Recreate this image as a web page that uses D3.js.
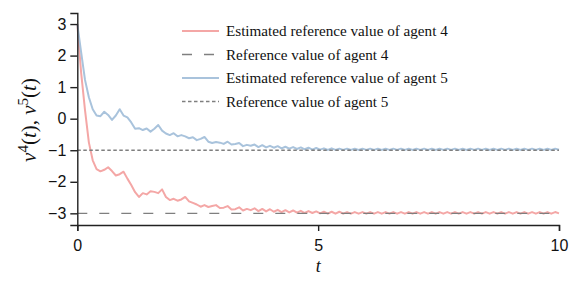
<!DOCTYPE html>
<html>
<head>
<meta charset="utf-8">
<script src="https://cdn.jsdelivr.net/npm/d3@7"></script>
<style>
  body { margin: 0; background: #fff; }
  svg { display: block; }
</style>
</head>
<body>
<div id="chart"></div>
<script>
// time samples (shared by both agents)
var tValues = [0.00,0.08,0.16,0.24,0.32,0.40,0.48,0.56,0.64,0.72,0.80,0.88,0.96,1.04,1.12,1.20,1.28,1.36,1.44,1.52,
  1.60,1.68,1.76,1.84,1.92,2.00,2.08,2.16,2.24,2.32,2.40,2.48,2.56,2.64,2.72,2.80,2.88,2.96,3.04,3.12,
  3.20,3.28,3.36,3.44,3.52,3.60,3.68,3.76,3.84,3.92,4.00,4.08,4.16,4.24,4.32,4.40,4.48,4.56,4.64,4.72,
  4.80,4.88,4.96,5.04,5.12,5.20,5.28,5.36,5.44,5.52,5.60,5.68,5.76,5.84,5.92,6.00,6.08,6.16,6.24,6.32,
  6.40,6.48,6.56,6.64,6.72,6.80,6.88,6.96,7.04,7.12,7.20,7.28,7.36,7.44,7.52,7.60,7.68,7.76,7.84,7.92,
  8.00,8.08,8.16,8.24,8.32,8.40,8.48,8.56,8.64,8.72,8.80,8.88,8.96,9.04,9.12,9.20,9.28,9.36,9.44,9.52,
  9.60,9.68,9.76,9.84,9.92,10.00];

// estimated reference value of agent 4
var agent4Est = [3.00,1.45,0.27,-0.75,-1.32,-1.60,-1.67,-1.62,-1.54,-1.66,-1.80,-1.76,-1.68,-1.90,-2.10,-2.33,-2.48,-2.36,-2.40,-2.30,
  -2.32,-2.36,-2.24,-2.48,-2.58,-2.54,-2.60,-2.56,-2.48,-2.62,-2.67,-2.72,-2.79,-2.74,-2.80,-2.77,-2.74,-2.83,-2.82,-2.77,
  -2.88,-2.87,-2.81,-2.91,-2.86,-2.90,-2.84,-2.93,-2.86,-2.94,-2.87,-2.95,-2.89,-2.96,-2.90,-2.97,-2.91,-2.98,-2.92,-2.99,
  -2.93,-2.99,-2.94,-3.00,-2.95,-3.01,-2.95,-3.01,-2.95,-3.01,-2.96,-3.01,-2.96,-3.01,-2.96,-3.01,-2.96,-3.01,-2.96,-3.01,
  -2.96,-3.01,-2.96,-3.01,-2.96,-3.01,-2.96,-3.01,-2.96,-3.01,-2.96,-3.01,-2.96,-3.01,-2.96,-3.01,-2.96,-3.01,-2.96,-3.01,
  -2.96,-3.01,-2.96,-3.01,-2.96,-3.01,-2.96,-3.01,-2.96,-3.01,-2.96,-3.01,-2.96,-3.01,-2.96,-3.01,-2.96,-3.01,-2.96,-3.01,
  -2.96,-3.01,-2.96,-3.01,-2.96,-3.00];

// estimated reference value of agent 5
var agent5Est = [3.00,2.10,1.23,0.68,0.30,0.10,0.08,0.22,0.12,-0.04,0.10,0.30,0.10,0.04,-0.12,-0.32,-0.30,-0.36,-0.31,-0.41,
  -0.32,-0.20,-0.38,-0.47,-0.52,-0.46,-0.56,-0.52,-0.56,-0.62,-0.59,-0.68,-0.64,-0.58,-0.73,-0.77,-0.74,-0.76,-0.80,-0.73,
  -0.82,-0.80,-0.77,-0.87,-0.83,-0.86,-0.82,-0.90,-0.84,-0.91,-0.86,-0.92,-0.87,-0.94,-0.89,-0.95,-0.90,-0.96,-0.91,-0.97,
  -0.92,-0.98,-0.93,-0.98,-0.94,-0.99,-0.94,-0.99,-0.95,-0.99,-0.95,-0.99,-0.95,-0.99,-0.95,-0.99,-0.95,-0.99,-0.95,-0.99,
  -0.95,-0.99,-0.95,-0.99,-0.95,-0.99,-0.95,-0.99,-0.95,-0.99,-0.95,-0.99,-0.95,-0.99,-0.95,-0.99,-0.95,-0.99,-0.95,-0.99,
  -0.95,-0.99,-0.95,-0.99,-0.95,-0.99,-0.95,-0.99,-0.95,-0.99,-0.95,-0.99,-0.95,-0.99,-0.95,-0.99,-0.95,-0.99,-0.95,-0.99,
  -0.95,-0.99,-0.95,-0.99,-0.95,-0.98];

var agent4Ref = -3;
var agent5Ref = -1;

var xTicks = [0, 5, 10];
var yTicks = [3, 2, 1, 0, -1, -2, -3];

var legendLabels = [
  "Estimated reference value of agent 4",
  "Reference value of agent 4",
  "Estimated reference value of agent 5",
  "Reference value of agent 5"
];

var width = 582, height = 283;
var margin = {top: 13, right: 23, bottom: 58, left: 77.3};
var serif = "'Liberation Serif'", sans = "'Liberation Sans'";

var svg = d3.select("#chart")
  .append("svg")
    .attr("width", width)
    .attr("height", height);

var x = d3.scaleLinear()
    .domain([0, 10])
    .range([margin.left, width - margin.right]);

var y = d3.scaleLinear()
    .domain([-3.37, 3.35])
    .range([height - margin.bottom, margin.top]);

var red = "#f4a7a6", blue = "#a9c3dc", gray = "#7f7f7f";

var line = d3.line()
    .x(function(d) { return x(d[0]); })
    .y(function(d) { return y(d[1]); });

function pairs(vals) {
  return tValues.map(function(t, i) { return [t, vals[i]]; });
}

// estimated value of agent 4
svg.append("path")
    .datum(pairs(agent4Est))
    .attr("fill", "none")
    .attr("stroke", red)
    .attr("stroke-width", 2)
    .attr("stroke-linejoin", "round")
    .attr("d", line);

// reference of agent 4
svg.append("line")
    .attr("x1", x(0)).attr("x2", x(10))
    .attr("y1", y(agent4Ref)).attr("y2", y(agent4Ref))
    .attr("stroke", gray)
    .attr("stroke-width", 1.3)
    .attr("stroke-dasharray", "10,12");

// estimated value of agent 5
svg.append("path")
    .datum(pairs(agent5Est))
    .attr("fill", "none")
    .attr("stroke", blue)
    .attr("stroke-width", 2)
    .attr("stroke-linejoin", "round")
    .attr("d", line);

// reference of agent 5
svg.append("line")
    .attr("x1", x(0)).attr("x2", x(10))
    .attr("y1", y(agent5Ref)).attr("y2", y(agent5Ref))
    .attr("stroke", gray)
    .attr("stroke-width", 1.3)
    .attr("stroke-dasharray", "3.5,2.5");

// axes
var xAxis = svg.append("g")
    .attr("transform", "translate(0," + (height - margin.bottom) + ")")
    .call(d3.axisBottom(x).tickValues(xTicks).tickSize(6).tickPadding(9)
      .tickFormat(d3.format("d")));

var yAxis = svg.append("g")
    .attr("transform", "translate(" + margin.left + ",0)")
    .call(d3.axisLeft(y).tickValues(yTicks).tickSize(7).tickPadding(4)
      .tickFormat(function(d) { return d < 0 ? "\u2212" + Math.abs(d) : d; }));

[xAxis, yAxis].forEach(function(g) {
  g.select(".domain").attr("stroke", "#222").attr("stroke-width", 1.4);
  g.selectAll(".tick line").attr("stroke", "#222").attr("stroke-width", 1.4);
  g.selectAll(".tick text")
    .attr("fill", "#111")
    .style("font-family", sans)
    .style("font-size", "16px");
});

// axis labels
svg.append("text")
    .attr("x", x(5))
    .attr("y", 272)
    .attr("text-anchor", "middle")
    .style("font-family", serif)
    .style("font-style", "italic")
    .style("font-size", "18px")
    .attr("fill", "#111")
    .text("t");

var yl = svg.append("text")
    .attr("transform", "translate(36,120) rotate(-90)")
    .attr("text-anchor", "middle")
    .style("font-family", serif)
    .style("font-size", "21px")
    .attr("fill", "#111");
yl.append("tspan").style("font-style", "italic").text("\u03bd");
yl.append("tspan").attr("dy", -8).style("font-size", "15px").text("4");
yl.append("tspan").attr("dy", 8).text("(");
yl.append("tspan").style("font-style", "italic").text("t");
yl.append("tspan").text("), ");
yl.append("tspan").style("font-style", "italic").text("\u03bd");
yl.append("tspan").attr("dy", -8).style("font-size", "15px").text("5");
yl.append("tspan").attr("dy", 8).text("(");
yl.append("tspan").style("font-style", "italic").text("t");
yl.append("tspan").text(")");

// legend
var legendStyles = [
  {stroke: red, width: 2, dash: null},
  {stroke: gray, width: 1.3, dash: "10,12"},
  {stroke: blue, width: 2, dash: null},
  {stroke: gray, width: 1.3, dash: "3.5,2.5"}
];
var legendY = [31, 54.5, 78, 101.5];

var legend = svg.append("g");
legendLabels.forEach(function(label, i) {
  legend.append("line")
      .attr("x1", 182).attr("x2", 219)
      .attr("y1", legendY[i]).attr("y2", legendY[i])
      .attr("stroke", legendStyles[i].stroke)
      .attr("stroke-width", legendStyles[i].width)
      .attr("stroke-dasharray", legendStyles[i].dash);
  legend.append("text")
      .attr("x", 226)
      .attr("y", legendY[i])
      .attr("dy", "0.35em")
      .attr("fill", "#111")
      .style("font-family", serif)
      .style("font-size", "15px")
      .text(label);
});

// first legend entry spans ~222px in the figure
var legScale = 222 / legend.select("text").node().getComputedTextLength();
legend.selectAll("text").style("font-size", Math.min(17, 15 * legScale) + "px");
</script>
</body>
</html>
